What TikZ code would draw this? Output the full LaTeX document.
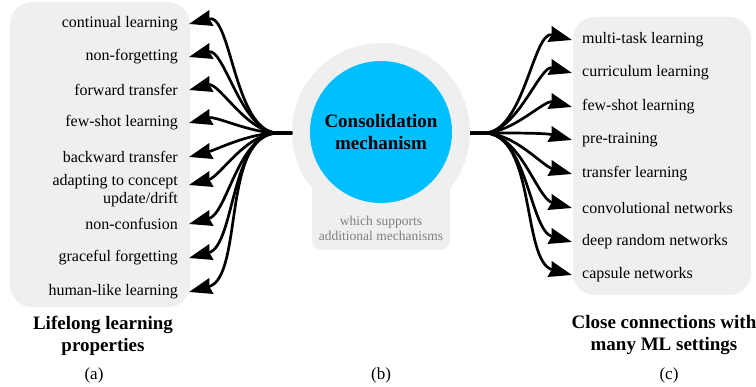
\documentclass[tikz,border=0pt]{standalone}
\usepackage{fontspec}
\setmainfont{Liberation Serif}
\usetikzlibrary{arrows.meta,calc,positioning}
\definecolor{panelgray}{HTML}{EFEFEF}
\definecolor{consblue}{HTML}{00BFFF}
\definecolor{notegray}{HTML}{808080}

\begin{document}
\begin{tikzpicture}[x=1pt,y=-1pt,
    prop/.style = {anchor=east, inner xsep=11pt, inner ysep=0pt, align=right,
                   font=\fontsize{16}{18}\selectfont},
    sett/.style = {anchor=west, inner xsep=10pt, inner ysep=0pt, align=left,
                   font=\fontsize{16}{18}\selectfont},
    captext/.style = {align=center, font=\fontsize{19}{22}\selectfont\bfseries},
    link/.style = {-{Stealth[length=23pt,width=16pt,inset=2pt]}, line width=2.7pt}]
\useasboundingbox (0,0) rectangle (756,387);

% panels
\fill[panelgray, rounded corners=22pt] (10,2) rectangle (190,307);
\fill[panelgray, rounded corners=22pt] (573,17) rectangle (751,295);
\fill[panelgray] (381,132) circle (89);
\fill[panelgray, rounded corners=10pt] (312,160) rectangle (450,250);

% centre
\node[circle, fill=consblue, minimum size=142pt, inner sep=0pt, captext] (cons) at (381,132)
    {Consolidation\\mechanism};
\node[align=center, text=notegray, font=\fontsize{13.5}{15}\selectfont] (note) at (381,228)
    {which supports\\additional mechanisms};
\coordinate (hubL) at (292,133);
\coordinate (hubR) at (470,133);

% left: lifelong learning properties
\node[prop] (p1) at (189,24) {continual learning};
\node[prop] (p2) at (189,57) {non-forgetting};
\node[prop] (p3) at (189,90) {forward transfer};
\node[prop] (p4) at (189,123) {few-shot learning};
\node[prop] (p5) at (189,157) {backward transfer};
\node[prop] (p6) at (189,191) {adapting to concept\\update/drift};
\node[prop] (p7) at (189,224) {non-confusion};
\node[prop] (p8) at (189,258) {graceful forgetting};
\node[prop] (p9) at (189,292) {human-like learning};

\foreach \p in {p1,p2,p3,p4,p5,p7,p8,p9}
    \draw[link] (hubL) -- ++(-14,0) to[out=180,in=15,looseness=0.8] (\p.east);
\draw[link] (hubL) -- ++(-14,0) to[out=180,in=15,looseness=0.8] ($(p6.east)+(0,-6)$);

% right: ML settings
\node[sett] (s1) at (572,40) {multi-task learning};
\node[sett] (s2) at (572,73) {curriculum learning};
\node[sett] (s3) at (572,107) {few-shot learning};
\node[sett] (s4) at (572,140) {pre-training};
\node[sett] (s5) at (572,174) {transfer learning};
\node[sett] (s6) at (572,208) {convolutional networks};
\node[sett] (s7) at (572,242) {deep random networks};
\node[sett] (s8) at (572,275) {capsule networks};

\foreach \s in {s1,s2,s3,s4,s5,s6,s7,s8}
    \draw[link] (hubR) -- ++(14,0) to[out=0,in=165,looseness=0.8] (\s.west);

% captions
\node[captext] (capa) at (103,336) {Lifelong learning\\properties};
\node[captext] (capc) at (664,335) {Close connections with\\many ML settings};
\node[font=\fontsize{17}{19}\selectfont] (la) at (94,375) {(a)};
\node[font=\fontsize{17}{19}\selectfont] (lb) at (381,375) {(b)};
\node[font=\fontsize{17}{19}\selectfont] (lc) at (669,375) {(c)};
\end{tikzpicture}
\end{document}
